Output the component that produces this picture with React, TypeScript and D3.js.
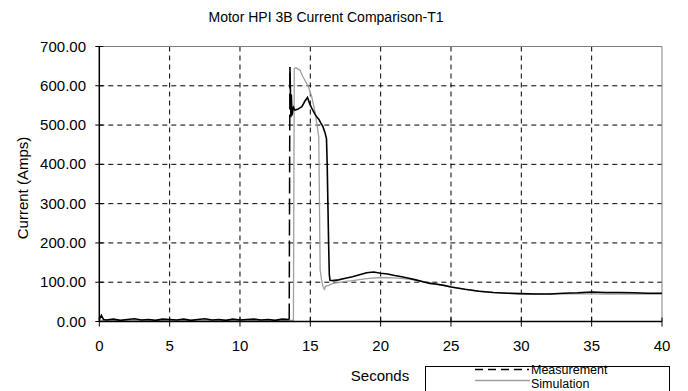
import React from 'react';
import * as d3 from 'd3';

const xTicks = [0, 5, 10, 15, 20, 25, 30, 35, 40];
const yTicks = [0, 100, 200, 300, 400, 500, 600, 700];
const yTickLabels = ['0.00', '100.00', '200.00', '300.00', '400.00', '500.00', '600.00', '700.00'];

const title = 'Motor HPI 3B Current Comparison-T1';
const xTitle = 'Seconds';
const yTitle = 'Current (Amps)';
const seriesNames = ['Measurement', 'Simulation'];

const measTime = [
  0, 0.15, 0.3, 0.5, 1, 1.5, 2, 2.5, 3, 3.5, 4, 4.5, 5, 5.5, 6, 6.5, 7, 7.5, 8, 8.5, 9, 9.5, 10, 10.5, 11, 11.5, 12, 12.5, 13, 13.5,
  13.55, 13.6, 13.62, 13.65, 13.7, 13.8, 13.9, 14.1, 14.4, 14.6, 14.8, 14.95, 15.1, 15.3, 15.45, 15.6, 15.75, 15.9, 16.05, 16.15,
  16.2, 16.25, 16.3, 16.35, 16.4, 16.6, 17, 17.5, 18, 18.5, 19, 19.5, 20, 20.5, 21, 21.5, 22, 22.5, 23, 23.5, 24, 24.5, 25,
  26, 27, 28, 29, 30, 31, 32, 33, 34, 35, 36, 37, 38, 39, 40,
];
const measValue = [
  5, 16, 5, 4, 6, 3, 5, 7, 4, 5, 3, 6, 5, 4, 6, 3, 5, 7, 4, 5, 3, 6, 4, 5, 6, 4, 5, 3, 6, 5,
  648, 560, 520, 578, 525, 545, 538, 540, 547, 560, 570, 555, 543, 530, 521, 515, 505, 496, 480, 465,
  400, 300, 200, 120, 105, 104, 106, 110, 114, 119, 124, 126, 123, 121, 117, 114, 110, 106, 101, 97, 95, 92, 88,
  82, 77, 74, 72, 71, 70, 70, 72, 73, 75, 74, 74, 73, 72, 72,
];

const simTime = [
  0, 13.8, 13.86, 13.98, 14.1, 14.26, 14.45, 14.6, 14.86, 15.1, 15.33, 15.5, 15.6, 15.65, 15.7, 15.8, 15.9, 16.0, 16.1, 16.3,
  16.6, 17, 17.5, 18, 19, 20, 21, 22, 23, 24, 25, 26, 27, 28, 29, 30, 32, 34, 36, 38, 40,
];
const simValue = [
  3, 3, 644, 646, 643, 640, 625, 615, 598, 572, 534, 495, 470, 300, 131, 106, 89, 82, 90, 92,
  97, 99, 102, 104, 109, 112, 111, 108, 102, 95, 88, 82, 77, 74, 72, 70, 70, 71, 70, 70, 70,
];

const FONT = 'Arial, "Liberation Sans", Helvetica, sans-serif';

export default function App() {
  const W = 688;
  const H = 391;
  const x = d3.scaleLinear().domain([0, 40]).range([99.3, 662]);
  const y = d3.scaleLinear().domain([0, 700]).range([321.5, 46.5]);
  const line = d3.line<[number, number]>().x((d) => x(d[0])).y((d) => y(d[1]));

  const measPts: [number, number][] = measTime.map((t, i) => [t, measValue[i]]);
  const simPts: [number, number][] = simTime.map((t, i) => [t, simValue[i]]);

  // Excel-like dashing: short segments look solid, long ones show dashes
  const solidRuns: [number, number][][] = [];
  const dashedSegs: [number, number][][] = [];
  let run: [number, number][] = [measPts[0]];
  for (let i = 1; i < measPts.length; i++) {
    const a = measPts[i - 1];
    const b = measPts[i];
    const len = Math.hypot(x(b[0]) - x(a[0]), y(b[1]) - y(a[1]));
    if (len > 80) {
      if (run.length > 1) solidRuns.push(run);
      dashedSegs.push([a, b]);
      run = [b];
    } else {
      run.push(b);
    }
  }
  if (run.length > 1) solidRuns.push(run);

  const [x0, x1] = x.range();
  const [y0, y1] = y.range();

  return (
    <svg width={W} height={H} style={{ position: 'absolute', left: 0, top: 0, background: '#fff' }} fontFamily={FONT}>
      <rect x={0} y={0} width={W} height={H} fill="#fff" />
      {/* grid */}
      {yTicks.filter((v) => v > 0 && v < 700).map((v) => (
        <line key={'gy' + v} x1={x0} x2={x1} y1={y(v)} y2={y(v)} stroke="#000" strokeWidth={1} strokeDasharray="5,4" />
      ))}
      {xTicks.filter((v) => v > 0 && v < 40).map((v) => (
        <line key={'gx' + v} x1={x(v)} x2={x(v)} y1={y0} y2={y1} stroke="#000" strokeWidth={1} strokeDasharray="5,4" />
      ))}
      {/* frame */}
      <line x1={x0} x2={x1} y1={y1} y2={y1} stroke="#808080" strokeWidth={1} />
      <line x1={x1} x2={x1} y1={y1} y2={y0} stroke="#808080" strokeWidth={1} />
      {/* series */}
      <path d={line(simPts) || ''} fill="none" stroke="#a0a0a0" strokeWidth={1.3} />
      {solidRuns.map((r, i) => (
        <path key={'mr' + i} d={line(r) || ''} fill="none" stroke="#000" strokeWidth={1.6} />
      ))}
      {dashedSegs.map((s, i) => (
        <path key={'md' + i} d={line(s) || ''} fill="none" stroke="#000" strokeWidth={1.5} strokeDasharray="16,5" />
      ))}
      {/* axes */}
      <line x1={x0} x2={x0} y1={y1} y2={y0} stroke="#000" strokeWidth={1.5} />
      <line x1={x0} x2={x1} y1={y0} y2={y0} stroke="#000" strokeWidth={1.5} />
      {yTicks.map((v, i) => (
        <g key={'yt' + v}>
          <line x1={x0 - 4} x2={x0 + 4} y1={y(v)} y2={y(v)} stroke="#000" strokeWidth={1} />
          <text x={86} y={y(v) + 5} textAnchor="end" fontSize={15} fill="#000">
            {yTickLabels[i]}
          </text>
        </g>
      ))}
      {xTicks.map((v) => (
        <g key={'xt' + v}>
          <line x1={x(v)} x2={x(v)} y1={y0 - 4} y2={y0 + 5} stroke="#000" strokeWidth={1} />
          <text x={x(v)} y={351} textAnchor="middle" fontSize={15} fill="#000">
            {v}
          </text>
        </g>
      ))}
      {/* titles */}
      <text x={326} y={22} textAnchor="middle" fontSize={14} fill="#000">
        {title}
      </text>
      <text x={380} y={381} textAnchor="middle" fontSize={15} fill="#000">
        {xTitle}
      </text>
      <text transform={`translate(28,188) rotate(-90)`} textAnchor="middle" fontSize={15} fill="#000">
        {yTitle}
      </text>
      {/* legend */}
      <rect x={425.5} y={366.5} width={244} height={30} fill="#fff" stroke="#000" strokeWidth={1} />
      <line x1={475} x2={529} y1={369.5} y2={369.5} stroke="#000" strokeWidth={1.3} strokeDasharray="8,5" />
      <text x={531} y={373.5} fontSize={12.5} fill="#000">
        {seriesNames[0]}
      </text>
      <line x1={475} x2={530} y1={380.5} y2={380.5} stroke="#a0a0a0" strokeWidth={1.3} />
      <text x={531} y={387.5} fontSize={12.5} fill="#000">
        {seriesNames[1]}
      </text>
    </svg>
  );
}
